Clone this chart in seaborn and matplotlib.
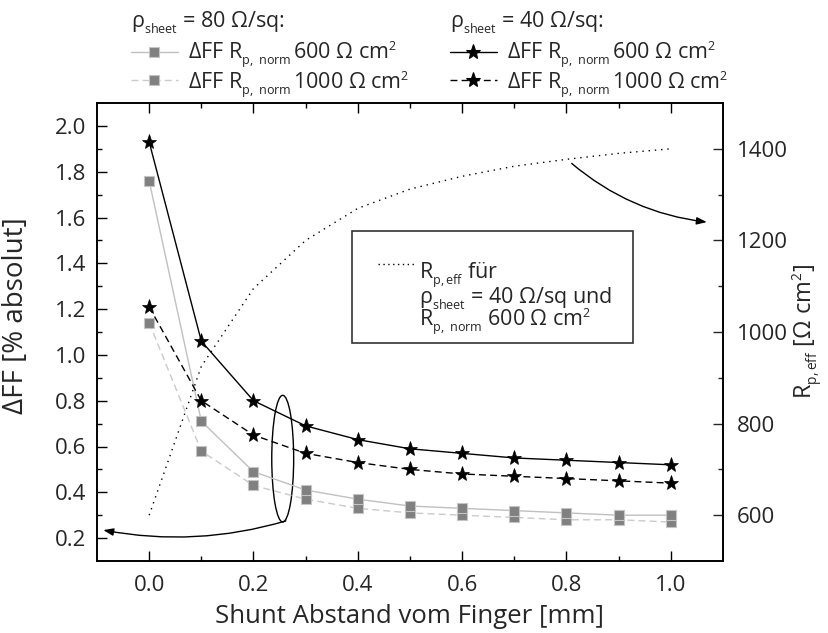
import numpy as np
import pandas as pd
import matplotlib
matplotlib.use("Agg")
import matplotlib.pyplot as plt
import seaborn as sns
from matplotlib.patches import Ellipse, Rectangle
from matplotlib.lines import Line2D
from matplotlib.ticker import FixedLocator

try:
    import matplotlib._mathtext as _mt
    _mt.SHRINK_FACTOR = 0.58
    _mt.FontConstantsBase.sub1 = 0.5
except Exception:
    pass

# ---- data ----
shunt_dist = [0.0, 0.1, 0.2, 0.3, 0.4, 0.5, 0.6, 0.7, 0.8, 0.9, 1.0]
dff_80_600 = [1.76, 0.71, 0.49, 0.41, 0.37, 0.34, 0.33, 0.32, 0.31, 0.30, 0.30]
dff_80_1000 = [1.14, 0.58, 0.43, 0.37, 0.33, 0.31, 0.30, 0.29, 0.28, 0.28, 0.27]
dff_40_600 = [1.93, 1.06, 0.80, 0.69, 0.63, 0.59, 0.57, 0.55, 0.54, 0.53, 0.52]
dff_40_1000 = [1.21, 0.80, 0.65, 0.57, 0.53, 0.50, 0.48, 0.47, 0.46, 0.45, 0.44]
rp_eff = [600, 925, 1095, 1200, 1270, 1312, 1340, 1362, 1377, 1390, 1400]

x_ticks = [0.0, 0.2, 0.4, 0.6, 0.8, 1.0]
y_left_ticks = [0.2, 0.4, 0.6, 0.8, 1.0, 1.2, 1.4, 1.6, 1.8, 2.0]
y_right_ticks = [600, 800, 1000, 1200, 1400]

sns.set_style("ticks")
FONT = "Open Sans"
plt.rcParams["font.family"] = [FONT, "DejaVu Sans"]
plt.rcParams["mathtext.fontset"] = "custom"
plt.rcParams["mathtext.rm"] = FONT
plt.rcParams["mathtext.it"] = FONT
plt.rcParams["mathtext.bf"] = FONT + ":bold"

FS_TICK = 16
FS_LEG = 15.5
FS_BOX = 15.5

fig = plt.figure(figsize=(8.29, 6.33), dpi=100)
ax = fig.add_axes([97 / 829, 1 - 561 / 633, (723 - 97) / 829, (561 - 103) / 633])
ax2 = ax.twinx()

grey_face = "#808080"
grey_edge = "#c4c4c4"
line80_solid = "#c0c0c0"
line80_dash = "#cacaca"
dash = (0, (5, 3))

sns.lineplot(x=shunt_dist, y=dff_80_1000, ax=ax, color=line80_dash, lw=1.0,
             linestyle=dash, marker="s", markersize=7.5,
             markerfacecolor=grey_face, markeredgecolor=grey_edge, markeredgewidth=0.8)
sns.lineplot(x=shunt_dist, y=dff_80_600, ax=ax, color=line80_solid, lw=1.0,
             marker="s", markersize=7.5,
             markerfacecolor=grey_face, markeredgecolor=grey_edge, markeredgewidth=0.8)
sns.lineplot(x=shunt_dist, y=dff_40_1000, ax=ax, color="black", lw=1.0,
             linestyle=dash, marker="*", markersize=11,
             markerfacecolor="black", markeredgecolor="black", markeredgewidth=0.5)
sns.lineplot(x=shunt_dist, y=dff_40_600, ax=ax, color="black", lw=1.0,
             marker="*", markersize=11,
             markerfacecolor="black", markeredgecolor="black", markeredgewidth=0.5)

sns.lineplot(x=shunt_dist, y=rp_eff, ax=ax2, color="black", lw=1.0,
             linestyle=(0, (1, 3.5)))

# axes limits and ticks
ax.set_xlim(-0.1, 1.1)
ax.set_ylim(0.1, 2.1)
ax2.set_ylim(500, 1500)
ax.xaxis.set_major_locator(FixedLocator(x_ticks))
ax.set_xticklabels([f"{t:.1f}" for t in x_ticks])
ax.xaxis.set_minor_locator(FixedLocator([0.1, 0.3, 0.5, 0.7, 0.9]))
ax.yaxis.set_major_locator(FixedLocator(y_left_ticks))
ax.set_yticklabels([f"{t:.1f}" for t in y_left_ticks])
ax.yaxis.set_minor_locator(FixedLocator([0.3, 0.5, 0.7, 0.9, 1.1, 1.3, 1.5, 1.7, 1.9]))
ax2.yaxis.set_major_locator(FixedLocator(y_right_ticks))
ax2.set_yticklabels([str(t) for t in y_right_ticks])
ax2.yaxis.set_minor_locator(FixedLocator([700, 900, 1100, 1300]))

ax.tick_params(axis="both", which="both", direction="in", top=True, right=False,
               labelsize=FS_TICK, width=1.0, color="black")
ax.tick_params(axis="y", pad=8)
ax.tick_params(axis="x", pad=10)
ax.tick_params(which="major", length=7)
ax.tick_params(which="minor", length=3.6)
ax2.tick_params(axis="y", which="both", direction="in", right=True, left=False,
                labelsize=FS_TICK, width=1.0, pad=10)
ax2.tick_params(which="major", length=7)
ax2.tick_params(which="minor", length=3.6)

for a in (ax, ax2):
    for s in a.spines.values():
        s.set_linewidth(1.2)
        s.set_color("black")
        s.set_visible(True)

ax.set_xlabel("Shunt Abstand vom Finger [mm]", fontsize=18.5, labelpad=6)
ax.set_ylabel("ΔFF [% absolut]", fontsize=20)
ax.yaxis.set_label_coords(-0.107, 0.535)
ax2.set_ylabel(r"R$_{\mathregular{p,eff}}$ [Ω cm$^{\mathregular{2}}$]", fontsize=17, labelpad=2)

# ellipse + arrows
ax.add_patch(Ellipse((0.256, 0.547), width=0.042, height=0.553, fill=False,
                     lw=1.0, color="black"))
ax.annotate("", xy=(-0.088, 0.235), xytext=(0.262, 0.275),
            arrowprops=dict(arrowstyle="-|>,head_length=0.6,head_width=0.22",
                            connectionstyle="arc3,rad=-0.12", lw=1.0, color="black",
                            shrinkA=0, shrinkB=0))
ax2.annotate("", xy=(1.069, 1240), xytext=(0.81, 1368),
             arrowprops=dict(arrowstyle="-|>,head_length=0.6,head_width=0.22",
                             connectionstyle="arc3,rad=0.15", lw=1.0, color="black",
                             shrinkA=0, shrinkB=0))

# inner legend box
def px2ax(px, py):
    return ((px - 97) / 626, (561 - py) / 458)

bx0, by0 = px2ax(352, 343)
bx1, by1 = px2ax(633, 231)
ax2.add_patch(Rectangle((bx0, by0), bx1 - bx0, by1 - by0, transform=ax2.transAxes,
                        fill=True, facecolor="white", edgecolor="#333333", lw=1.2, zorder=5))
lx0, ly = px2ax(378, 264)
lx1, _ = px2ax(415, 264)
ax2.add_line(Line2D([lx0, lx1], [ly, ly], transform=ax2.transAxes, color="black",
                    lw=1.0, linestyle=(0, (1, 2.5)), zorder=6))
tx, tty = px2ax(419, 261)
box_text = "\n".join([
    r"R$_{\mathregular{p,eff}}$ für",
    r"ρ$_{\mathregular{sheet}}$ = 40 Ω/sq und",
    r"R$_{\mathregular{p,\ norm}}$ 600 Ω cm$^{\mathregular{2}}$",
])
ax2.text(tx, tty, box_text, transform=ax2.transAxes, fontsize=FS_BOX,
         va="top", ha="left", multialignment="left", linespacing=0.74, zorder=6)

# top legends (drawn in figure pixel positions)
def fpx(px, py):
    return (px / 829, 1 - py / 633)

lab600 = r"ΔFF R$_{\mathregular{p,\ norm}}\!$ 600 Ω cm$^{\mathregular{2}}$"
lab1000 = r"ΔFF R$_{\mathregular{p,\ norm}}\!$ 1000 Ω cm$^{\mathregular{2}}$"

legend_cols = [
    dict(x0=131, title=r"ρ$_{\mathregular{sheet}}$ = 80 Ω/sq:",
         entries=[dict(color=line80_solid, ls="-", marker="s", ms=7.5, mfc=grey_face, mec=grey_edge, label=lab600),
                  dict(color=line80_dash, ls=dash, marker="s", ms=7.5, mfc=grey_face, mec=grey_edge, label=lab1000)]),
    dict(x0=450, title=r"ρ$_{\mathregular{sheet}}$ = 40 Ω/sq:",
         entries=[dict(color="black", ls="-", marker="*", ms=11, mfc="black", mec="black", label=lab600),
                  dict(color="black", ls=dash, marker="*", ms=11, mfc="black", mec="black", label=lab1000)]),
]
row_y = [52, 80]
text_base = [59, 89]
for col in legend_cols:
    x0 = col["x0"]
    fig.text(*fpx(x0, 27), col["title"], fontsize=FS_LEG, ha="left", va="baseline")
    for e, yy, tb in zip(col["entries"], row_y, text_base):
        (ax_, ay_), (bx_, _) = fpx(x0, yy), fpx(x0 + 47, yy)
        fig.add_artist(Line2D([ax_, bx_], [ay_, ay_], transform=fig.transFigure,
                              color=e["color"], lw=1.0, linestyle=e["ls"]))
        mx, _ = fpx(x0 + 23.5, yy)
        fig.add_artist(Line2D([mx], [ay_], transform=fig.transFigure, marker=e["marker"],
                              markersize=e["ms"], markerfacecolor=e["mfc"],
                              markeredgecolor=e["mec"], markeredgewidth=0.8, linestyle="none"))
        fig.text(*fpx(x0 + 57, tb), e["label"], fontsize=FS_LEG, ha="left", va="baseline")

fig.savefig("out.png", dpi=100)
